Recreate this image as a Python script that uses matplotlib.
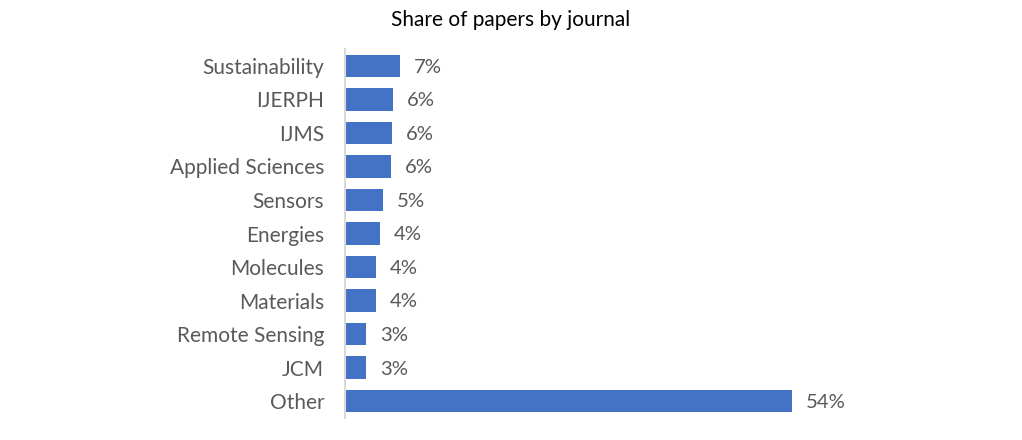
import matplotlib.pyplot as plt

# journals top to bottom, share of papers in %
journals = ["Sustainability", "IJERPH", "IJMS", "Applied Sciences", "Sensors",
            "Energies", "Molecules", "Materials", "Remote Sensing", "JCM", "Other"]
shares = [6.6, 5.8, 5.7, 5.6, 4.6, 4.2, 3.7, 3.7, 2.6, 2.6, 54.1]

plt.rcParams["font.family"] = ["Lato", "DejaVu Sans"]

fig = plt.figure(figsize=(10.22, 4.4), dpi=100)
ax = fig.add_axes([345 / 1022, 1 - 418 / 440, 496 / 1022, 369 / 440])

pos = list(range(len(journals)))
ax.barh(pos, shares, height=0.67, color="#4472C4")
ax.set_ylim(len(journals) - 0.5, -0.5)
ax.set_xlim(0, 60)

ax.set_yticks(pos)
ax.set_yticklabels(journals, fontsize=15, color="#595959")
ax.tick_params(axis="y", length=0, pad=15)
ax.set_xticks([])

for side in ["top", "right", "bottom"]:
    ax.spines[side].set_visible(False)
ax.spines["left"].set_color("#D9D9D9")
ax.spines["left"].set_linewidth(1.5)

for p, v in zip(pos, shares):
    ax.annotate(f"{v:.0f}%", (v, p), xytext=(10, -1), textcoords="offset points",
                va="center", ha="left", fontsize=14.6, color="#595959")

fig.text(511 / 1022, 1 - 20 / 440, "Share of papers by journal",
         ha="center", va="center", fontsize=15, color="black")

fig.savefig("out.png", dpi=100)
